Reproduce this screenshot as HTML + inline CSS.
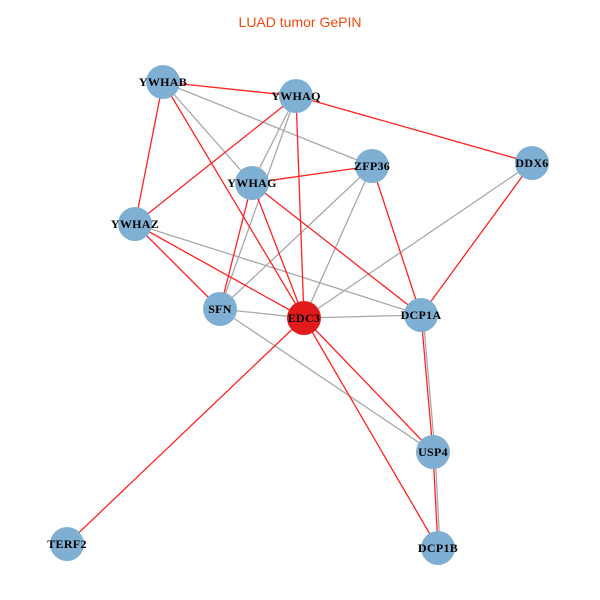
<!DOCTYPE html>
<html><head><style>body{margin:0;background:#fff}svg{display:block}</style></head><body>
<svg width="600" height="600" xmlns="http://www.w3.org/2000/svg">
<rect width="600" height="600" fill="#fff"/>
<text x="300" y="27" text-anchor="middle" font-family="Liberation Sans, sans-serif" font-size="14" fill="#f04a10">LUAD tumor GePIN</text>
<g stroke-width="1.3">
<g stroke="#a8a8a8">
<line x1="163" y1="82" x2="372" y2="166"/>
<line x1="163" y1="82" x2="252" y2="183"/>
<line x1="296" y1="96" x2="252" y2="183"/>
<line x1="296" y1="96" x2="220" y2="309"/>
<line x1="372" y1="166" x2="220" y2="309"/>
<line x1="372" y1="166" x2="304" y2="318"/>
<line x1="532" y1="163" x2="304" y2="318"/>
<line x1="135" y1="224" x2="421" y2="315"/>
<line x1="220" y1="309" x2="304" y2="318"/>
<line x1="220" y1="309" x2="433" y2="452"/>
<line x1="304" y1="318" x2="421" y2="315"/>
<line x1="423" y1="315" x2="435" y2="452"/>
<line x1="435" y1="452" x2="440" y2="548"/>
</g>
<g stroke="#f22">
<line x1="163" y1="82" x2="296" y2="96"/>
<line x1="163" y1="82" x2="135" y2="224"/>
<line x1="163" y1="82" x2="304" y2="318"/>
<line x1="296" y1="96" x2="532" y2="163"/>
<line x1="296" y1="96" x2="135" y2="224"/>
<line x1="296" y1="96" x2="304" y2="318"/>
<line x1="252" y1="183" x2="372" y2="166"/>
<line x1="252" y1="183" x2="220" y2="309"/>
<line x1="252" y1="183" x2="304" y2="318"/>
<line x1="252" y1="183" x2="421" y2="315"/>
<line x1="135" y1="224" x2="304" y2="318"/>
<line x1="135" y1="224" x2="220" y2="309"/>
<line x1="372" y1="166" x2="421" y2="315"/>
<line x1="532" y1="163" x2="421" y2="315"/>
<line x1="421" y1="315" x2="433" y2="452"/>
<line x1="433" y1="452" x2="438" y2="548"/>
<line x1="304" y1="318" x2="433" y2="452"/>
<line x1="304" y1="318" x2="438" y2="548"/>
<line x1="304" y1="318" x2="67" y2="544"/>
</g>
</g>
<g fill="#7fb0d4">
<circle cx="163" cy="82" r="17"/><circle cx="296" cy="96" r="17"/>
<circle cx="372" cy="166" r="17"/><circle cx="532" cy="163" r="17"/>
<circle cx="252" cy="183" r="17"/><circle cx="135" cy="224" r="17"/>
<circle cx="220" cy="309" r="17"/><circle cx="421" cy="315" r="17"/>
<circle cx="433" cy="452" r="17"/><circle cx="67" cy="544" r="17"/>
<circle cx="438" cy="548" r="17"/>
</g>
<circle cx="304" cy="318" r="17" fill="#e31a1c"/>
<g font-family="Liberation Serif, serif" font-weight="bold" font-size="12" letter-spacing="0.3" fill="#000" text-anchor="middle">
<text x="163" y="86">YWHAB</text><text x="296" y="100">YWHAQ</text>
<text x="372" y="170">ZFP36</text><text x="532" y="167">DDX6</text>
<text x="252" y="187">YWHAG</text><text x="135" y="228">YWHAZ</text>
<text x="220" y="313">SFN</text><text x="304" y="322">EDC3</text>
<text x="421" y="319">DCP1A</text><text x="433" y="456">USP4</text>
<text x="67" y="548">TERF2</text><text x="438" y="552">DCP1B</text>
</g>
</svg>
</body></html>
